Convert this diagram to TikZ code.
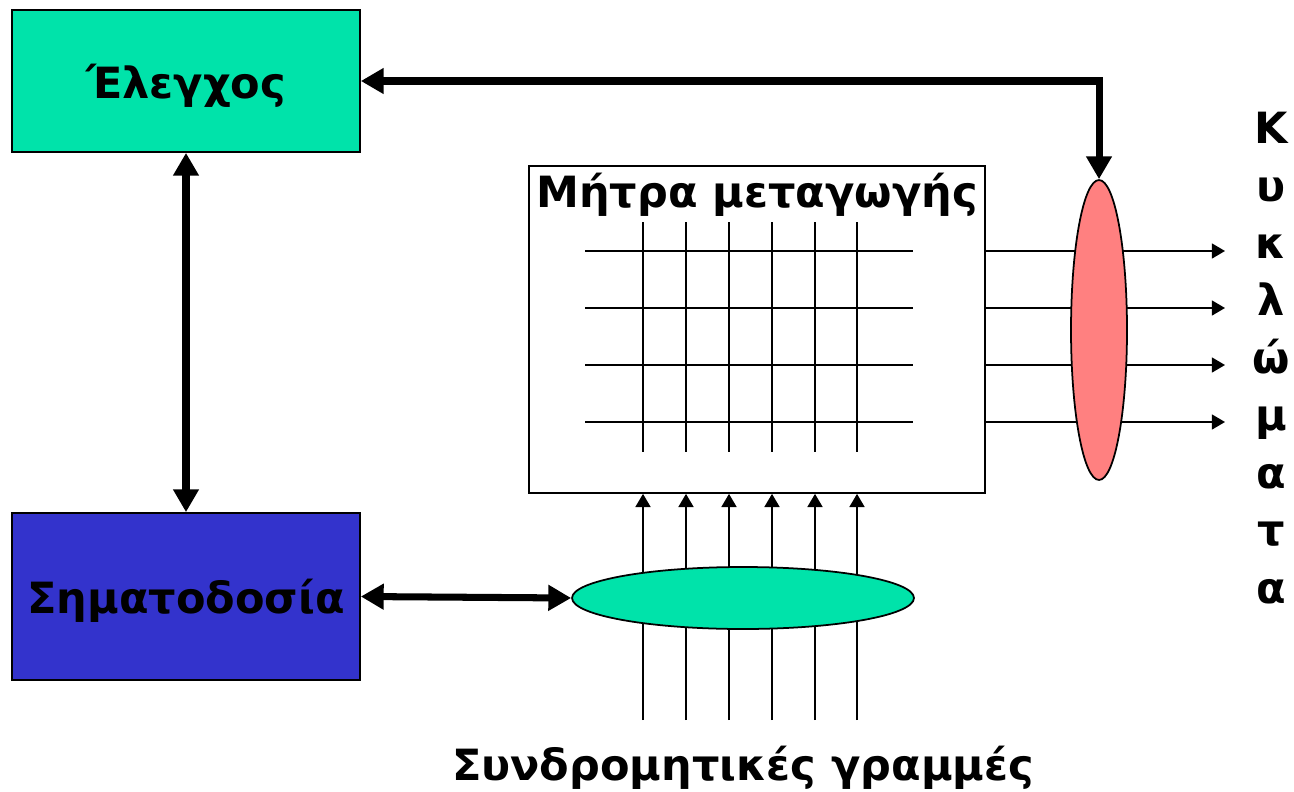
\documentclass[tikz,border=0pt]{standalone}
\usepackage{fontspec}
\setmainfont{DejaVu Sans}
\usetikzlibrary{arrows.meta, shapes.geometric, backgrounds}
\definecolor{mint}{RGB}{0,227,170}
\definecolor{indigo}{RGB}{51,51,204}
\definecolor{salmon}{RGB}{255,128,128}
\tikzset{
  big/.style={font=\fontsize{24.5}{32.7}\selectfont\bfseries},
  box/.style={draw, line width=1pt, inner sep=0pt, text depth=0pt, big},
  bus/.style={line width=4pt, {Triangle[length=13pt,width=14pt]}-{Triangle[length=13pt,width=14pt]}},
  wire/.style={line width=1.1pt, -{Triangle[length=7.5pt,width=8.5pt]}}
}
\begin{document}
\begin{tikzpicture}[x=0.02cm, y=-0.02cm]
    \useasboundingbox (0,0) rectangle (1294,791);
    %blocks
    \node[box, fill=mint, minimum width=6.96cm, minimum height=2.84cm] at (186,81) (El){Έλεγχος};
    \node[box, fill=indigo, minimum width=6.96cm, minimum height=3.34cm] at (186,596.5) (Sig){Σηματοδοσία};
    \node[draw, line width=1pt, fill=white, minimum width=9.12cm, minimum height=6.54cm] at (757,329.5) (Mt){};
    \node[big, anchor=base] at (757,207) (MtT){Μήτρα μεταγωγής};
    %switching grid
    \foreach \y in {251,308,365,422} \draw[line width=1.1pt] (585,\y) -- (913,\y);
    \foreach \x in {643,686,729,772,815,857} \draw[line width=1.1pt] (\x,222) -- (\x,452);
    \node[ellipse, draw, line width=1pt, fill=mint, inner sep=0pt, minimum width=6.84cm, minimum height=1.24cm] at (743,598) (Ov){};
    \node[ellipse, draw, line width=1pt, fill=salmon, inner sep=0pt, minimum width=1.12cm, minimum height=6cm] at (1099,330) (Ok){};
    \begin{scope}[on background layer]
      \foreach \x [count=\i] in {643,686,729,772,815,857}{
        \coordinate (in\i) at (\x,720);
        \draw[wire] (in\i) -- (in\i |- Mt.south);
      }
      \foreach \y [count=\i] in {251,308,365,422}{
        \coordinate (out\i) at (1225,\y);
        \draw[wire] (Mt.east |- out\i) -- (out\i);
      }
    \end{scope}
    %control paths
    \draw[bus] (El.south) -- (Sig.north);
    \draw[bus] (Ok.north) |- (El.east);
    \draw[bus] (Sig.east) -- (Ov.west);
    \node[big, align=center] at (1271,358) (Kyk){Κ\\υ\\κ\\λ\\ώ\\μ\\α\\τ\\α};
    \node[big, anchor=base] at (743,780) (Syn){Συνδρομητικές γραμμές};
\end{tikzpicture}
\end{document}
